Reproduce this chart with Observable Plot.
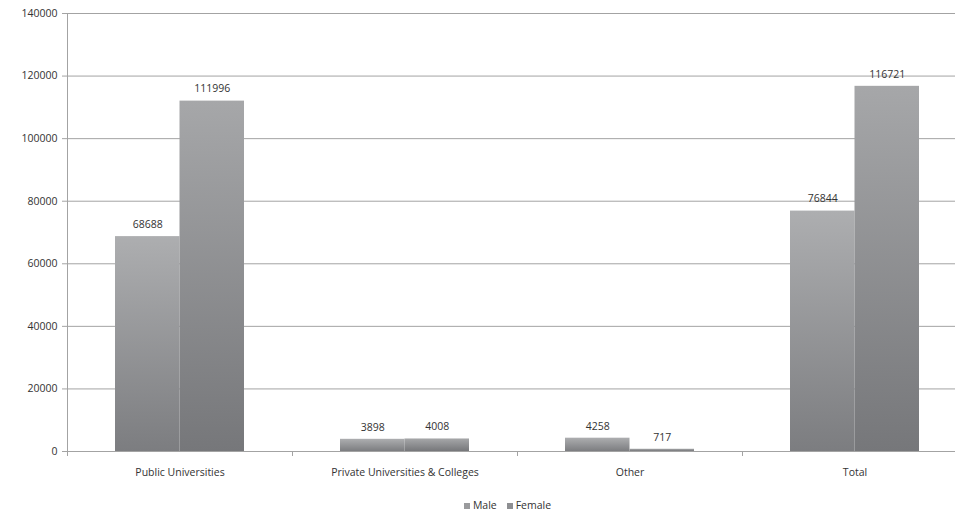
<!DOCTYPE html>
<html>
<head>
<meta charset="utf-8">
<script src="https://cdn.jsdelivr.net/npm/d3@7"></script>
<script src="https://cdn.jsdelivr.net/npm/@observablehq/plot@0.6"></script>
<style>
  body { margin: 0; background: #fff; font-family: "Open Sans", sans-serif; }
  #legend { width: 955px; height: 29px; display: flex; justify-content: center; align-items: center; padding-left: 60px; box-sizing: border-box; font-size: 10.5px; color: #333; gap: 10px; }
  #legend span.sw { display: inline-block; width: 6px; height: 6px; margin-right: 3px; vertical-align: middle; }
</style>
</head>
<body>
<div id="chart"></div>
<div id="legend"></div>
<script>
const categories = ["Public Universities", "Private Universities & Colleges", "Other", "Total"];
const series = ["Male", "Female"];
const maleValues = [68688, 3898, 4258, 76844];
const femaleValues = [111996, 4008, 717, 116721];
const yTicks = [0, 20000, 40000, 60000, 80000, 100000, 120000, 140000];

const rows = [];
categories.forEach((c, i) => {
  rows.push({category: c, series: "Male", value: maleValues[i]});
  rows.push({category: c, series: "Female", value: femaleValues[i]});
});
const male = rows.filter(d => d.series === "Male");
const female = rows.filter(d => d.series === "Female");

const band = 225;
const barW = 64.5;
const outer = (band - 2 * barW) / 2;

const defs = () => {
  const svgNS = "http://www.w3.org/2000/svg";
  const g = document.createElementNS(svgNS, "defs");
  const mk = (id, top, bottom) => {
    const lg = document.createElementNS(svgNS, "linearGradient");
    lg.setAttribute("id", id);
    lg.setAttribute("x1", "0"); lg.setAttribute("y1", "0");
    lg.setAttribute("x2", "0"); lg.setAttribute("y2", "1");
    const s1 = document.createElementNS(svgNS, "stop");
    s1.setAttribute("offset", "0"); s1.setAttribute("stop-color", top);
    const s2 = document.createElementNS(svgNS, "stop");
    s2.setAttribute("offset", "1"); s2.setAttribute("stop-color", bottom);
    lg.appendChild(s1); lg.appendChild(s2);
    g.appendChild(lg);
  };
  mk("gMale", "#adaeb0", "#7c7d80");
  mk("gFemale", "#a6a7a9", "#76777a");
  return g;
};

const chart = Plot.plot({
  width: 955,
  height: 490,
  marginTop: 13,
  marginBottom: 39,
  marginLeft: 67,
  marginRight: 0,
  style: { fontFamily: "Open Sans, sans-serif", fontSize: "10.5px", color: "#333", background: "#fff" },
  x: { domain: categories, range: [67, 67 + band * 4], padding: 0, label: null },
  y: { domain: [0, 140000], label: null },
  marks: [
    defs,
    Plot.ruleY(yTicks, { stroke: "#a3a3a3", strokeWidth: 1 }),
    Plot.barY(male, { x: "category", y: "value", fill: "url(#gMale)", insetLeft: outer, insetRight: outer + barW }),
    Plot.barY(female, { x: "category", y: "value", fill: "url(#gFemale)", insetLeft: outer + barW, insetRight: outer }),
    Plot.ruleX([categories[0]], { dx: -band / 2, y1: 140000, y2: 0, stroke: "#a3a3a3", insetBottom: -5 }),
    Plot.ruleX(categories, { dx: band / 2, y1: 0, y2: 0, stroke: "#a3a3a3", insetBottom: -5 }),
    Plot.text(male, { x: "category", y: "value", text: d => String(d.value), dx: -barW / 2, dy: -12, fill: "#333", fontSize: 10.5 }),
    Plot.text(female, { x: "category", y: "value", text: d => String(d.value), dx: barW / 2, dy: -12, fill: "#333", fontSize: 10.5 }),
    Plot.axisY(yTicks, { tickSize: 5, tickPadding: 5, stroke: "#a3a3a3", tickFormat: d => String(d), fill: "#333" }),
    Plot.axisX({ tickSize: 0, tickPadding: 17, fill: "#333" })
  ]
});
document.getElementById("chart").appendChild(chart);

const legend = document.getElementById("legend");
const legendColors = { Male: "#9a9b9d", Female: "#8e8f92" };
series.forEach(s => {
  const item = document.createElement("span");
  item.innerHTML = `<span class="sw" style="background:${legendColors[s]}"></span>${s}`;
  legend.appendChild(item);
});
</script>
</body>
</html>
